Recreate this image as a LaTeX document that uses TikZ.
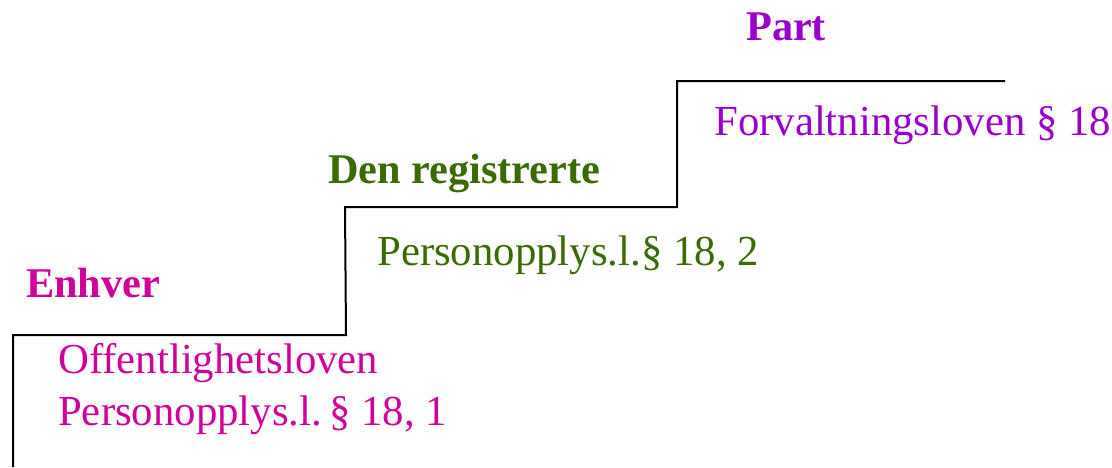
\documentclass[tikz,border=0pt]{standalone}
\usepackage{fontspec}
\setmainfont{Liberation Serif}
\definecolor{cmag}{HTML}{D0009A}
\definecolor{cgreen}{HTML}{3A6B00}
\definecolor{cpurp}{HTML}{9A00CC}
\begin{document}
\begin{tikzpicture}[x=1pt,y=-1pt,
  lbl/.style={anchor=base west,inner sep=0pt,font=\fontsize{42.8}{52}\selectfont},
  head/.style={anchor=base west,inner sep=0pt,font=\fontsize{42.3}{52}\selectfont\bfseries},
  stair/.style={line width=2pt,line join=miter}]
\useasboundingbox (0,0) rectangle (1112,467);
\draw[stair] (13,467) -- (13,335) -- (346,335) -- (345,207) -- (677,207) -- (677,81) -- (1005,81);
\node[head,text=cmag] (enhver) at (26,297) {Enhver};
\node[lbl,text=cmag] (off1) at (58,373) {Offentlighetsloven};
\node[lbl,text=cmag] (off2) at (58,425) {Personopplys.l.\hspace{7pt}§ 18, 1};
\node[head,text=cgreen] (denreg) at (328,183) {Den registrerte};
\node[lbl,text=cgreen] (pers2) at (377,265) {Personopplys.l.§ 18, 2};
\node[head,text=cpurp] (part) at (746,40) {Part};
\node[lbl,text=cpurp] (forv) at (714,135) {Forvaltningsloven § 18};
\end{tikzpicture}
\end{document}
